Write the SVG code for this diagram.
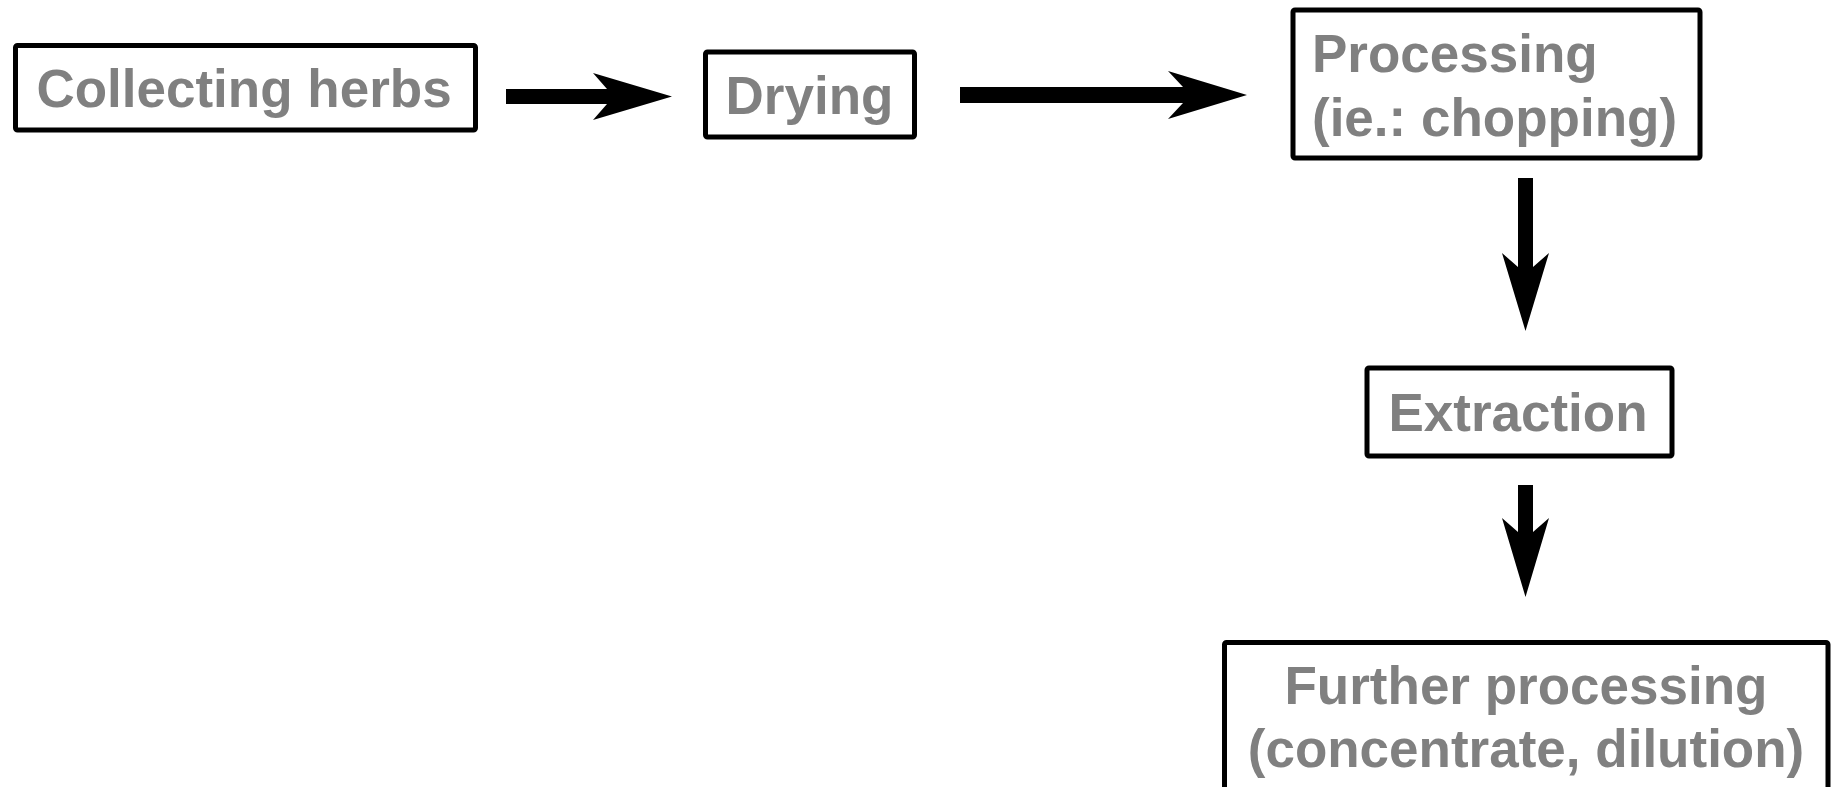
<svg xmlns="http://www.w3.org/2000/svg" width="1837" height="787" viewBox="0 0 1837 787">
<style>
.box{fill:#fff;stroke:#000;stroke-width:5;stroke-linejoin:round}
.lbl{font-family:"Liberation Sans",Arial,sans-serif;font-weight:bold;font-size:53px;fill:#808080}
.mid{text-anchor:middle}
.arrow{fill:#000;stroke:none}
</style>
<rect width="1837" height="787" fill="#fff"/>
<g id="connectors">
<path class="arrow" d="M506,89 L607,89 L593,73 L672,96.5 L593,120 L607,104 L506,104 Z"/>
<path class="arrow" d="M960,87 L1183,87 L1168,71 L1247,95 L1168,119 L1183,103 L960,103 Z"/>
<path class="arrow" d="M1518,178 L1518,267 L1502,253 L1525.5,331 L1549,253 L1533,267 L1533,178 Z"/>
<path class="arrow" d="M1518,485 L1518,532 L1502,518 L1525.5,597 L1549,518 L1533,532 L1533,485 Z"/>
</g>
<g id="collecting">
<rect class="box" x="15.5" y="45.5" width="460" height="84.5" rx="2"/>
<text class="lbl mid" x="244" y="107">Collecting herbs</text>
</g>
<g id="drying">
<rect class="box" x="705.5" y="52" width="209" height="85" rx="2"/>
<text class="lbl mid" x="809.5" y="114">Drying</text>
</g>
<g id="processing">
<rect class="box" x="1293" y="10" width="407" height="148" rx="2"/>
<text class="lbl" x="1312" y="72">Processing</text>
<text class="lbl" x="1312" y="136">(ie.: chopping)</text>
</g>
<g id="extraction">
<rect class="box" x="1367" y="368" width="305" height="88" rx="2"/>
<text class="lbl mid" x="1518" y="431">Extraction</text>
</g>
<g id="further">
<rect class="box" x="1224.5" y="642.5" width="603.5" height="170" rx="2"/>
<text class="lbl mid" x="1526" y="704">Further processing</text>
<text class="lbl mid" x="1526" y="767">(concentrate, dilution)</text>
</g>
</svg>
